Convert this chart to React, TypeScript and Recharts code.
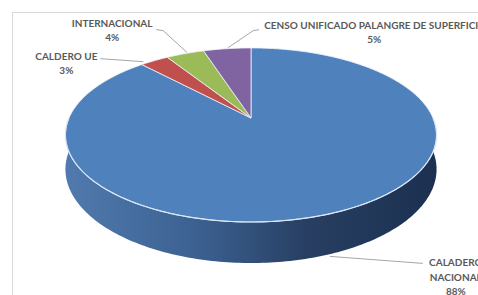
import React from 'react';
import { PieChart, Pie } from 'recharts';

const sliceNames = ['CALADERO NACIONAL', 'CALDERO UE', 'INTERNACIONAL', 'CENSO UNIFICADO PALANGRE DE SUPERFICIE'];
const sliceShares = [88, 3, 4, 5];
const sliceColors = ['#4f81bd', '#c0504d', '#9bbb59', '#8064a2'];

const data = sliceNames.map((name, i) => ({ name, value: sliceShares[i], fill: sliceColors[i] }));

// fake 3d: tilt, perspective and thickness of the disc
const TILT = 0.46;
const PERSP = 0.195;
const DEPTH = 33;
const RAD = Math.PI / 180;

const proj = (cx: number, cy: number, r: number, deg: number) => {
  const t = deg * RAD;
  const s = 1 / (1 + PERSP * Math.sin(t));
  return { x: cx + r * Math.cos(t) * s, y: cy - r * TILT * Math.sin(t) * s, s };
};

const arc = (cx: number, cy: number, r: number, a0: number, a1: number, down = 0) => {
  const pts: { x: number; y: number }[] = [];
  const n = Math.max(2, Math.ceil(Math.abs(a1 - a0)));
  for (let i = 0; i <= n; i++) {
    const p = proj(cx, cy, r, a0 + ((a1 - a0) * i) / n);
    pts.push({ x: p.x, y: p.y + down * p.s });
  }
  return pts;
};

const toPath = (pts: { x: number; y: number }[]) =>
  pts.map((p, i) => `${i ? 'L' : 'M'}${p.x.toFixed(2)},${p.y.toFixed(2)}`).join(' ');

const Slice3D = (props: any) => {
  const { cx, cy, outerRadius, startAngle, endAngle, fill } = props;
  const a0 = Math.min(startAngle, endAngle);
  const a1 = Math.max(startAngle, endAngle);
  const top = arc(cx, cy, outerRadius, a0, a1);

  // side wall only on the front half of the disc
  const sides: string[] = [];
  const rims: string[] = [];
  for (let k = -2; k <= 1; k++) {
    const f0 = Math.max(a0, -180 + 360 * k);
    const f1 = Math.min(a1, 360 * k);
    if (f1 - f0 > 0.1) {
      const upper = arc(cx, cy, outerRadius, f0, f1);
      const lower = arc(cx, cy, outerRadius, f1, f0, DEPTH);
      sides.push(toPath([...upper, ...lower]) + ' Z');
      rims.push(toPath(upper));
    }
  }
  const gid = `side-${props.index ?? fill.replace('#', '')}`;

  return (
    <g>
      <defs>
        <linearGradient id={gid} x1={cx - outerRadius} x2={cx + outerRadius} y1={0} y2={0} gradientUnits="userSpaceOnUse">
          <stop offset="0" stopColor="#5079ad" />
          <stop offset="0.35" stopColor="#3b6191" />
          <stop offset="0.65" stopColor="#283f63" />
          <stop offset="1" stopColor="#1c3150" />
        </linearGradient>
      </defs>
      {sides.map((d, i) => (
        <path key={`s${i}`} d={d} fill={`url(#${gid})`} stroke="none" />
      ))}
      <path d={`M${cx},${cy} ${toPath(top).replace('M', 'L')} Z`} fill={fill} stroke="#eef3fa" strokeWidth={0.8} strokeLinejoin="round" />
      {rims.map((d, i) => (
        <path key={`r${i}`} d={d} fill="none" stroke="#d9e6f5" strokeWidth={1.2} />
      ))}
    </g>
  );
};

// leader line and text placement, relative to where the line meets the slice
const labelLayout = [
  { line: [[-3, 3], [90, 10]], text: [123, 9], wrap: true, front: true },
  { line: [[-11, 1], [-54, -2]], text: [-88, -5], wrap: false, front: false },
  { line: [[2, -1], [-22, -23], [-29, -24]], text: [-73, -31], wrap: false, front: false },
  { line: [[1, -1], [26, -18], [32, -19]], text: [147, -24], wrap: false, front: false },
];

const SliceLabel = (props: any) => {
  const { cx, cy, outerRadius, midAngle, index, name, percent } = props;
  const lay = labelLayout[index];
  const p = proj(cx, cy, outerRadius, midAngle);
  const ax = p.x;
  const ay = p.y + (lay.front ? DEPTH * p.s : 0);
  const pts = lay.line.map(([dx, dy]) => `${ax + dx},${ay + dy}`).join(' ');
  const lines = lay.wrap ? name.split(' ') : [name];
  lines.push(`${Math.round(percent * 100)}%`);
  const tx = ax + lay.text[0];
  const ty = ay + lay.text[1];
  return (
    <g>
      <polyline points={pts} fill="none" stroke="#a6a6a6" strokeWidth={1} />
      <text x={tx} y={ty} textAnchor="middle" fill="#595959" fontFamily="Lato, 'Open Sans', sans-serif" fontWeight={700} fontSize={10}>
        {lines.map((l: string, i: number) => (
          <tspan key={i} x={tx} y={ty + i * 14.5} dominantBaseline="central">
            {l}
          </tspan>
        ))}
      </text>
    </g>
  );
};

export default function App() {
  return (
    <div style={{ position: 'fixed', left: 0, top: 0, width: 478, height: 295, overflow: 'hidden', background: '#fff' }}>
      <div
        style={{
          position: 'absolute',
          left: 12,
          top: 12,
          width: 520,
          height: 330,
          border: '1px solid #d9d9d9',
        }}
      />
      <div style={{ position: 'absolute', left: 0, top: 0 }}>
        <PieChart width={478} height={295} margin={{ top: 0, right: 0, bottom: 0, left: 0 }}>
          <Pie
            data={data}
            dataKey="value"
            nameKey="name"
            cx={251}
            cy={118}
            outerRadius={182}
            startAngle={90}
            endAngle={-270}
            stroke="none"
            shape={Slice3D}
            activeShape={Slice3D}
            inactiveShape={Slice3D}
            label={SliceLabel}
            labelLine={false}
            isAnimationActive={false}
          />
        </PieChart>
      </div>
    </div>
  );
}
